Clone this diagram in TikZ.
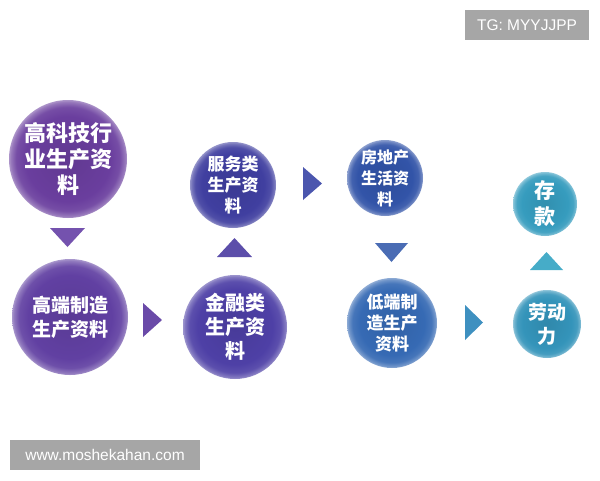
\documentclass[tikz,border=0pt]{standalone}
\usepackage{fontspec}
\setmainfont{Liberation Sans}
\newfontfamily\cjk{Noto Sans CJK SC}
\definecolor{colA}{HTML}{6A3E9E}
\definecolor{colB}{HTML}{6140A2}
\definecolor{colC}{HTML}{403FA0}
\definecolor{colD}{HTML}{4E40A6}
\definecolor{colE}{HTML}{3254A8}
\definecolor{colF}{HTML}{366AB4}
\definecolor{colG}{HTML}{369CBE}
\definecolor{colH}{HTML}{3494BA}
\definecolor{tA}{HTML}{7452AE}
\definecolor{tB}{HTML}{6A4AA8}
\definecolor{tC}{HTML}{5C4EAA}
\definecolor{tD}{HTML}{4B56AE}
\definecolor{tE}{HTML}{4A6CB4}
\definecolor{tF}{HTML}{3E90C0}
\definecolor{tG}{HTML}{46ACC8}
\colorlet{ballbase}{colA}
\pgfdeclareradialshading[ballbase]{ballshade}{\pgfpoint{0bp}{0bp}}{%
  color(0bp)=(ballbase!92!black);
  color(18bp)=(ballbase);
  color(22bp)=(ballbase!92!white);
  color(24.2bp)=(ballbase!70!white);
  color(25bp)=(ballbase!55!white);
  color(50bp)=(ballbase!55!white)}
\begin{document}
\begin{tikzpicture}[x=1pt,y=-1pt]
\useasboundingbox (0,0) rectangle (600,480);
\tikzset{
  ball/.style 2 args={circle, inner sep=0pt, minimum size=#1, text=white, align=center,
     /utils/exec={\colorlet{ballbase}{#2}}, shading=ballshade, shade},
  tri/.style={fill=#1, draw=none},
  tag/.style={fill=black!35, text=white, inner sep=0pt, font=\fontsize{15.5}{18}\selectfont}
}
% circles
\node[ball={118pt}{colA}, font=\fontsize{22}{26}\cjk\bfseries] (c1) at (68,159) {高科技行\\业生产资\\料};
\node[ball={116pt}{colB}, font=\fontsize{19}{24}\cjk\bfseries] (c2) at (70,317) {高端制造\\生产资料};
\node[ball={86pt}{colC}, font=\fontsize{17}{21}\cjk\bfseries] (c3) at (233,185) {服务类\\生产资\\料};
\node[ball={104pt}{colD}, font=\fontsize{20}{24}\cjk\bfseries] (c4) at (235,327) {金融类\\生产资\\料};
\node[ball={76pt}{colE}, font=\fontsize{16}{21}\cjk\bfseries] (c5) at (385,178) {房地产\\生活资\\料};
\node[ball={90pt}{colF}, font=\fontsize{17}{21}\cjk\bfseries] (c6) at (392,323) {低端制\\造生产\\资料};
\node[ball={64pt}{colG}, font=\fontsize{21}{26}\cjk\bfseries] (c7) at (545,204) {存\\款};
\node[ball={68pt}{colH}, font=\fontsize{19}{24}\cjk\bfseries] (c8) at (547,324) {劳动\\力};
% triangle connectors
\fill[tri=tA] (50,228) -- (85,228) -- (67.5,247) -- cycle;
\fill[tri=tB] (143,303) -- (143,337) -- (162,320) -- cycle;
\fill[tri=tC] (217,257) -- (252,257) -- (234.5,238) -- cycle;
\fill[tri=tD] (303,167) -- (303,200) -- (322,183.5) -- cycle;
\fill[tri=tE] (375,243) -- (408,243) -- (391.5,262) -- cycle;
\fill[tri=tF] (465,305) -- (465,340) -- (483,322.5) -- cycle;
\fill[tri=tG] (530,270) -- (563,270) -- (546.5,252) -- cycle;
% tags
\node[tag, minimum width=124pt, minimum height=30pt] (tg) at (527,25) {TG: MYYJJPP};
\node[tag, minimum width=190pt, minimum height=30pt] (www) at (105,455) {www.moshekahan.com};
\end{tikzpicture}
\end{document}
